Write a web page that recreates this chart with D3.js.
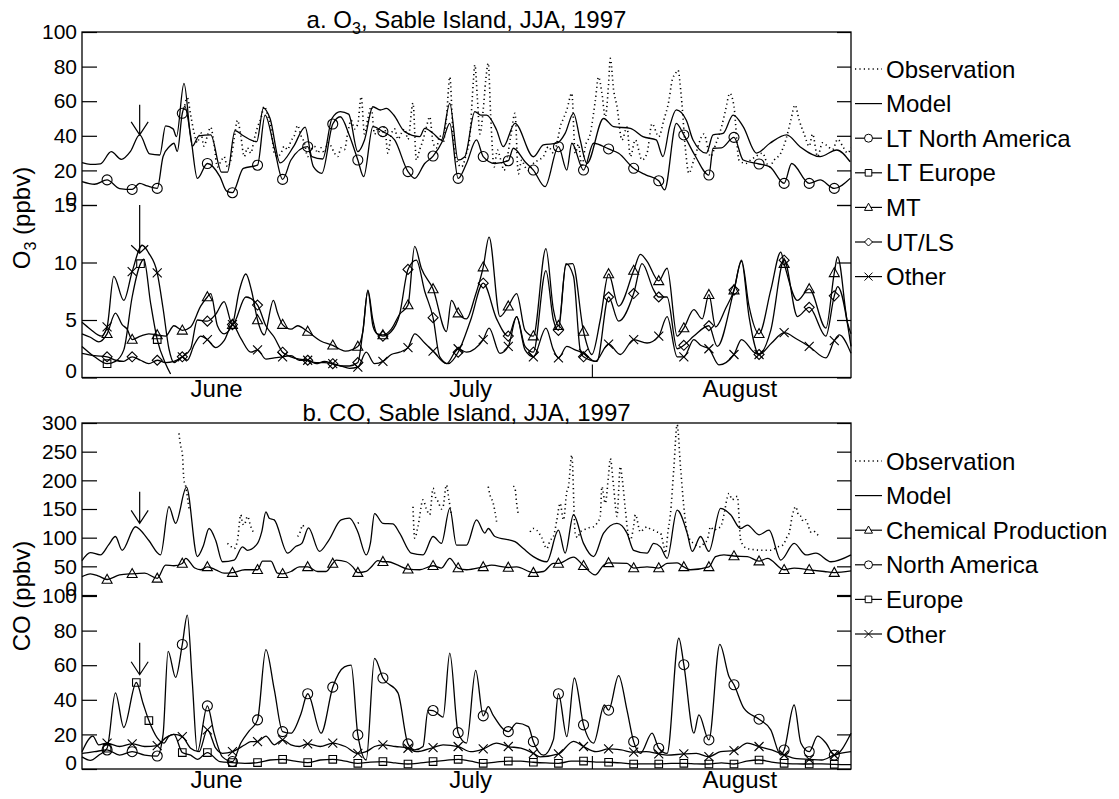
<!DOCTYPE html>
<html>
<head>
<meta charset="utf-8">
<script src="https://cdn.jsdelivr.net/npm/d3@7"></script>
<style>
  body { margin: 0; background: #fff; }
  text { font-family: "Liberation Sans", Arial, Helvetica, sans-serif; fill: #000; }
</style>
</head>
<body>
<svg id="chart" width="1119" height="799"></svg>
<script>
// days since 1 June 1997, values in ppbv
var MARK3 = [3,6,9,12,15,18,21,24,27,30,33,36,39,42,45,48,51,54,57,60,63,66,69,72,75,78,81,84,87,90];

var o3Obs = [[12.2,55],[12.6,62],[13,52],[13.4,42],[13.8,36],[14.2,42],[14.6,34],[15,40],[15.4,45],[15.8,35],[16.2,22],[16.6,25],[17,28],[17.4,22],[17.8,26],[18.2,38],[18.6,49],[19,40],[19.4,28],[19.8,33],[20.2,30],[20.6,38],[21,45],[21.4,50],[21.8,57],[22.2,52],[22.6,45],[23,30],[23.4,28],[23.8,30],[24.2,34],[24.6,32],[25,37],[25.4,40],[25.8,46],[26.2,40],[26.6,36],[27,28],[27.4,32],[27.8,34],[28.2,30],[28.6,33],[29,30],[29.4,36],[29.8,34],[30.2,30],[30.6,28],[31,33],[31.4,32],[31.8,42],[32.2,49],[32.6,44],[33,47],[33.4,62.6],[33.8,41],[34.2,50],[34.6,56.8],[35,41],[35.4,44],[35.8,40],[36.2,45],[36.6,30],[37,41],[37.4,44],[37.8,38],[38.2,41.4],[38.6,44],[39,38],[39.6,59],[40,26],[40.4,32],[40.8,37.6],[41.2,45],[41.6,51],[42,36],[42.4,33],[42.8,40],[43.2,36],[43.6,50],[44,74],[44.4,40],[44.8,26],[45.4,22],[46,30],[46.4,39.5],[46.8,70],[47,81],[47.3,62],[47.6,41],[48,55],[48.3,72],[48.6,82],[48.9,51],[49.3,22],[49.7,31.8],[50.1,26],[50.5,20],[50.9,28],[51.3,40],[51.8,53],[52.2,18],[52.6,26],[53,22],[53.4,20],[54,24],[54.6,26],[55.2,28],[55.8,33.7],[56.4,30],[57,40],[57.2,45],[57.6,50],[58,55],[58.6,64.6],[59,30],[59.4,35],[59.8,22],[60.2,33.7],[60.8,41],[61.4,60],[61.8,74],[62.2,64.6],[62.6,51],[63,70],[63.2,84.8],[63.6,66.5],[64,57],[64.6,37.6],[65.2,45],[65.6,28],[66.2,37.6],[67,26],[67.6,30],[68.2,47],[69,39.5],[69.6,49],[70.2,60],[70.6,72],[71,76],[71.3,78],[71.7,62.6],[72.2,32],[72.6,18.3],[73.2,26],[74.4,41],[75.2,28],[75.8,35],[76.5,45],[77,55],[77.5,64.6],[78,57],[78.6,26],[79.4,24],[80,26],[80.6,28],[81.4,30],[82.2,22],[82.8,26],[83.6,30],[84.2,37.6],[84.8,49],[85.3,57.8],[85.8,49],[86.4,41],[87,34],[87.4,41],[88,28],[88.6,36],[89.2,34],[89.8,32],[90.4,38],[91,34],[91.6,30],[92,33]];

var o3Model = [[0,24.5],[1,23.5],[2.2,23.8],[3.5,30.8],[4.7,26.4],[5.8,31],[6.9,40.5],[8.1,29.5],[9.3,28.9],[10,45.7],[10.9,44],[11.3,39.5],[12.2,70.3],[13.2,34],[14,40],[15.4,40.5],[16.7,19],[17.4,19],[18.3,43],[19.3,40],[20.9,36.6],[21.7,56],[22.5,50],[23.7,24.3],[25.3,33.7],[26.7,45],[27.5,28],[28.8,26.6],[29.9,50],[30.9,54],[31.9,52.5],[33,30.8],[33.8,37.6],[34.8,56.8],[35.7,54.9],[36.4,55.8],[37.3,52],[38.6,42.4],[40.4,39.5],[41,44.3],[42,41.5],[43,37.6],[44,58.8],[45,26],[45.8,27.9],[47,54],[47.7,52],[48.4,52],[49.6,43.4],[50.4,33.7],[51.8,47.2],[54,27.9],[55.2,34.7],[56.8,35.7],[57.8,41.4],[58.8,53],[59.6,37.6],[60.4,24],[62.4,50],[63.6,45.3],[65.6,44.3],[67.1,39.5],[68.7,37.6],[69.5,28],[70.3,45.3],[71.1,55],[72.3,49],[73.1,37.6],[74.7,30],[75.5,40.5],[76.7,41.4],[77.9,52],[79.1,45.3],[80.7,30],[82.3,35.7],[84.3,40.5],[85.9,33.7],[88.3,28],[90.3,31.8],[91.9,25]];

var o3LTNA = [[0,13.5],[1.5,12],[3,14.5],[4.5,9.5],[6,9],[6.9,12.5],[7.8,11],[9,9.6],[9.7,28],[10.5,34],[11,35.7],[11.4,31],[12,53],[12.3,57],[13,40],[13.8,15.4],[15,24],[16.5,16.4],[17.3,8],[18,7.1],[19.3,21.2],[21,23],[21.9,52],[23,33],[24,14.8],[25,26],[27,33.7],[27.7,22],[28.7,18.3],[30,46.8],[30.9,51],[32,40],[33,26],[33.7,16.4],[34.8,45.3],[36,42.4],[37.4,37.6],[39,19.3],[39.8,15.4],[41,24],[42,28.3],[43.2,37.6],[44,47.2],[45,15.4],[46,24],[47.2,37.6],[48,28],[49.4,24],[51,25.6],[51.6,32.8],[53,25],[54,20.2],[55.4,10.6],[57,33.7],[58,20.2],[58.6,35.7],[60,20.2],[61.2,35.7],[63,32.4],[64.2,29.9],[66,21.2],[67.5,17.3],[69,14],[69.7,8.7],[71.1,47.2],[72,40.5],[73.3,28.9],[75,17.3],[75.5,32.8],[76.5,33],[78,39.1],[79.1,26],[81,23.7],[82.3,22],[84,12.5],[84.9,24],[87,12.5],[88.3,14.5],[90,9.6],[91.9,15.4]];

var o3LTEU = [[0,2.7],[1.5,1.8],[3,1.2],[4,1.4],[5,2.4],[6,7],[7,9.9],[7.4,10.3],[8.2,6.5],[9,3.3],[10,1.2],[10.6,0.3]];
var o3LTEUMarks = [3,7,9];

var o3MT = [[0,3.8],[1,3.5],[2,3.1],[3,3.8],[4,5.6],[4.8,4.6],[5.4,4.2],[6,3.3],[7,3.6],[8,3.8],[9,3.7],[10,3.6],[11,4.5],[12,4.1],[13,4.4],[14.2,6.2],[15,7.0],[15.4,7.3],[16.2,4.5],[17,3.8],[18,4.6],[18.8,7.5],[19.6,9.0],[20.3,7.5],[21,5.0],[21.8,3.7],[22.9,6.7],[23.4,5.6],[24,4.6],[25,4.2],[25.8,4.5],[27,4.0],[28.5,3.2],[30,2.8],[31.5,2.3],[33,2.7],[33.6,4],[34.2,7.6],[34.8,5],[35.3,3.8],[36,3.7],[37,4.2],[38,5.5],[39,6.3],[39.8,11.4],[40.6,9.5],[42,7.7],[43.6,4.0],[44.2,6.7],[45,5.6],[46,5.1],[47,7],[48,9.6],[48.7,12.2],[50,5.3],[51,6.2],[52,7.3],[53,4.1],[54,3.6],[55.5,11.2],[56.4,5.9],[57,4.5],[57.9,9.8],[58.7,9.9],[60,4.0],[61,2.0],[62,5],[63,9.0],[64.2,6.2],[66,9.3],[66.8,10.7],[67.6,10.1],[69,8.4],[70,9.5],[71.2,3.6],[72,4.3],[73.2,5.9],[74.2,5.1],[75,7.2],[75.8,4.4],[77,6.0],[78,7.6],[78.9,10.2],[79.8,6.2],[81,3.8],[82.4,7.6],[83.6,10.9],[84,9.9],[85.6,6.7],[87,7.7],[89,4.3],[90,9.1],[90.4,10.5],[91.6,4.7],[92,3.8]];

var o3UTLS = [[0,2.1],[1.5,1.9],[3,1.8],[4,1.5],[5,1.4],[6,1.8],[7,1.5],[8,1.2],[9,1.5],[10,1.3],[11,1.4],[12,1.8],[13,2.5],[13.8,5.0],[15,4.9],[16,5.5],[17,6.6],[18,4.6],[19.6,7.0],[21,6.3],[22,4.5],[23,3.5],[24,2.2],[25,1.8],[26,1.6],[27,1.5],[28,1.3],[29,1.3],[30,1.2],[31,1.0],[32,1.0],[33,1.3],[33.6,4],[34.2,7.5],[34.8,4.5],[35.3,3.8],[36,3.6],[37,4.0],[38,5.5],[39,9.4],[40,10.2],[41,7.5],[42,5.2],[42.8,1.8],[43.8,1.2],[45,2.2],[46.5,5],[48,8.2],[49.6,5.1],[51,3.6],[52,5.3],[53,2.7],[54,2.2],[55.5,9.3],[56.4,5.0],[57,4.1],[57.9,9.9],[58.8,8.8],[59.6,2.4],[60,1.8],[61.6,1.4],[63,7.0],[64.2,4.9],[66,7.3],[67,9.9],[68.4,7.6],[69,7.0],[70,7.0],[71.2,2.5],[72,2.8],[73.2,3.6],[75,4.5],[76,2.7],[78,7.6],[78.9,10.1],[79.8,5.3],[81,2.0],[82.4,4.1],[84,10.2],[85.6,5.3],[87,6.1],[89,3.6],[90,7.1],[90.4,7.9],[92,2.7]];

var o3Other = [[0,4.8],[1,4.2],[2.3,3.6],[3,4.4],[3.8,8.8],[5,6.7],[6,9.2],[7.2,11.5],[8,10.8],[9,9.1],[9.7,6],[10.4,2.5],[11,1.3],[12,1.8],[12.6,1.5],[13.4,2.8],[14.2,3.6],[15,3.3],[16,2.6],[17,3.2],[18,4.6],[19,3.4],[20.2,2.2],[21,2.4],[22,1.6],[23,1.7],[24,1.8],[25,1.9],[26,1.5],[27,1.5],[28,1.2],[29,1.4],[30,1.2],[31,1.0],[32,0.8],[33,0.9],[34,2.2],[35,1.2],[36,1.4],[37,2.0],[38,2.2],[39,2.6],[39.8,3.8],[41,3],[42,2.3],[43.6,1.2],[45,2.5],[46,2.2],[47,2.5],[48,3.3],[48.7,4.3],[50,2.1],[51,2.7],[52,5.3],[53,2.4],[54,1.8],[55.5,4.3],[56.4,2.4],[57,1.7],[58,2.7],[59,2.4],[60,2.1],[61.4,1.4],[63,2.9],[64.4,2.0],[66,3.3],[67.6,3.0],[69,3.6],[70,5.3],[71.2,1.8],[72,1.8],[73.2,3.3],[74,2.8],[75,2.5],[76.2,1.1],[78,2.0],[78.9,3.3],[80.4,2.2],[81,2.0],[82.5,3.0],[84,3.9],[85.6,3.3],[87,2.7],[89,1.7],[90,3.2],[90.6,3.7],[92,2.1]];

// CO, null marks a gap in the observations
var coObs = [[11.6,282],[11.8,260],[12,247],[12.2,200],[12.4,190],[12.6,172],[12.8,151],[13,null],
  [17.4,90],[17.8,85],[18.2,81],[18.6,95],[19,140],[19.2,125],[19.4,122],[19.8,137],[20.2,119],[20.6,107],[21,null],
  [25.8,102],[26.1,110],[26.4,122],[26.6,115],[27,null],
  [33,125],[33.15,127],[33.5,null],
  [39.6,154],[39.8,99],[40.2,120],[40.8,166],[41.2,150],[41.6,140],[42,186],[42.3,170],[42.6,163],[43,150],[43.2,154],[43.6,192],[43.9,166],[44.2,140],[44.5,null],
  [48.6,189],[48.8,175],[49.2,160],[49.6,128],[50,null],
  [51.6,190],[51.8,186],[52,160],[52.2,140],[52.5,null],
  [53.6,110],[54,116],[54.4,113],[55,100],[55.6,81],[56,95],[56.4,102],[56.8,130],[57.2,160],[57.6,131],[58,180],[58.2,189],[58.6,244],[59,108],[59.3,100],[59.6,110],[60,113],[60.4,116],[60.8,118],[61.2,119],[61.6,125],[62,137],[62.2,189],[62.6,160],[63,210],[63.2,238],[63.6,189],[64,137],[64.4,224],[64.6,206],[65,150],[65.3,110],[65.6,96],[66,120],[66.2,140],[66.8,110],[67.2,115],[67.6,119],[68,115],[68.4,113],[68.8,110],[69.2,108],[69.6,85],[69.8,73],[70.1,110],[70.4,142],[70.8,220],[71.2,297],[71.6,224],[72,154],[72.4,108],[72.8,95],[73.2,90],[73.6,85],[74,84],[74.4,90],[74.8,96],[75.2,119],[75.6,113],[76,116],[76.4,119],[76.8,140],[77.2,170],[77.4,177],[77.8,166],[78.1,170],[78.4,172],[78.8,96],[79.2,85],[79.6,81],[80.4,79],[81.2,78],[82,78],[82.4,78],[82.8,80],[83.2,84],[83.6,85],[84,90],[84.3,100],[84.6,108],[85,140],[85.4,154],[85.7,140],[86,137],[86.3,128],[86.6,131],[86.9,120],[87.2,110],[87.5,112],[87.8,108],[88.1,104],[88.4,102]];

var coModel = [[0,60],[1,74],[2.2,70],[3.2,88],[4,102],[4.8,78],[6.4,119],[7,113],[8,95],[9.4,70],[10.4,154],[11.2,125],[12.5,188],[13.8,67],[14.5,85],[15.2,116],[16,95],[16.8,58],[18.2,61],[19.2,84],[19.8,78],[21,90],[21.5,110],[22,145],[22.4,134],[23,131],[24.6,73],[25.6,85],[26.3,90],[27.1,117],[28.4,76],[29.5,95],[31,131],[32,134],[33,110],[34,70],[34.5,90],[35,142],[36,125],[37.2,124],[38,108],[39.4,73],[40.8,70],[42,102],[43,90],[44,151],[44.8,87],[46,87],[47.2,131],[48.2,108],[48.6,116],[49.4,102],[51.8,93],[52.8,81],[54,67],[55.6,58],[57,113],[57.8,73],[58.8,140],[60,90],[61.2,67],[62.4,108],[64,125],[65.2,108],[66,78],[67.6,73],[68.4,90],[69.2,84],[70,64],[71.2,148],[72.4,108],[73,76],[74,102],[75,76],[76.4,151],[77.6,140],[78.8,116],[79.6,122],[81,105],[82.2,113],[83.6,61],[85.2,90],[86.6,70],[87.8,73],[89.6,58],[92,70]];

var coChem = [[0,32],[1,37],[2,33],[3,27],[4.5,35],[6,37],[7.5,38],[9,29],[10,52],[11,51],[12,55],[12.4,64],[13.5,47],[14.2,44],[15,49],[16,44],[17,38],[18,39],[19.5,44],[21,44],[21.6,59],[22.6,59],[23.4,38],[24,37],[25,41],[26,49],[27,49],[28.2,41],[29.2,41],[30,55],[30.4,61],[31.6,58],[32.4,49],[33,39],[34,41],[34.6,49],[35.4,60],[36,58],[36.6,58],[37.8,52],[39,45],[40.4,44],[42,51],[43,47],[44,64],[45,47],[46,44],[48,49],[49,52],[51,48],[52,49],[54,39],[55.2,41],[56.4,55],[57,55],[58.8,66],[60,51],[61.4,35],[62.4,52],[63,56],[65.2,55],[66,47],[67.6,49],[69,47],[70,55],[71.2,56],[72,49],[72.8,44],[75,49],[75.8,67],[76.8,70],[78,68],[79.6,67],[81,59],[82,64],[84,44],[85.2,47],[87,44],[88.8,41],[90,39],[92,42]];

var coNA = [[0,9],[1.5,10],[3,11],[4.5,8],[6,10],[7.5,8],[9,7.5],[9.7,20],[10.3,68],[11.2,53],[12,72],[12.6,89],[13.2,50],[13.8,10],[15,36.5],[15.8,20.7],[16.8,7],[18,4.3],[19,15],[20,22],[21,28.4],[22,69],[23,46],[24,21.6],[25,20.7],[26.2,32],[27,43.5],[28.6,20.7],[30,47.3],[31.4,59],[32.2,60],[33,19.7],[34,5.2],[35,64],[36,52.6],[37.8,44],[39,14.5],[39.8,11],[40.8,13],[41.4,34],[42,33.8],[43.2,30],[44,67],[45,21],[46,15],[47.1,57],[48,30.7],[48.6,36],[49.2,31],[51,21.6],[52,26.5],[53.4,24.5],[54,15.8],[55.2,8],[56.4,17],[57,43.5],[58,18.7],[58.9,52.6],[60,25.5],[61.2,15],[62.5,37],[63,34],[64.2,54],[65.2,34],[66,15.8],[66.8,9],[68.2,20.7],[69,12],[70,9],[71.4,75.7],[72,60.3],[73.2,20.7],[73.8,31.3],[75,16.8],[76.3,72],[77.4,53.5],[78,48.7],[79.2,35],[81,28.8],[82.4,22.6],[83.6,8],[84,11],[85.2,37],[86,15],[87,10],[88,19],[89,15],[90,8],[92,20.7]];

var coEU = [[0,7],[1,5],[2,8],[3,12],[4,44],[5,24],[6.5,50],[7.3,38],[8,28],[9,18],[9.8,15],[10.4,19],[11,20],[12,9.5],[13,8],[13.8,5.6],[15,9.5],[16.5,4.3],[18,3.7],[19.5,3.3],[21,3.7],[22.5,5.2],[24,5.6],[25.5,4.5],[27,3.7],[28.5,5.2],[30,5.6],[31.5,4.5],[33,3.3],[34.5,4],[36,4.3],[37.5,3.5],[39,2.9],[40.5,3.5],[42,4.3],[43.5,5],[45,5.6],[46.5,4.5],[48,3.3],[49.5,4],[51,4.6],[52.5,4.5],[54,3.9],[55.5,3.5],[57,3.3],[58.5,4.5],[60,4.6],[61.5,4],[63,3.9],[64.5,3.5],[66,2.9],[67.5,3],[69,2.9],[70.5,3.2],[72,3.3],[73.5,3],[75,2.9],[76.5,3.5],[78,2.9],[79.5,4.5],[81,5.2],[82.5,4],[84,3.3],[85.5,3],[87,2.9],[88.5,3],[90,2.7],[92,2.5]];
var coEUMarks = [3,6.5,8,12,15,18,21,24,27,30,33,36,39,42,45,48,51,54,57,60,63,66,69,72,75,78,81,84,87,90];

var coOther = [[0,10],[1.3,19],[2,14],[3,15],[4.5,13],[6,14.5],[7.5,13],[9,13.5],[10,18],[11,20],[12,18.7],[13,12],[14,10],[15,22.6],[16,12],[16.8,9],[18,10],[19.5,14],[20.2,15.8],[21,15.8],[22,19],[23,14],[24,16.8],[25,14],[26,13],[27,14.5],[28.5,13],[30,15],[31.5,13],[33,9],[34,10],[35,13],[36,14],[37.5,13],[39,12],[40,10],[42,12.4],[43.2,14],[45,13],[46.5,10],[48,11.6],[49.6,15],[51,13],[52.5,12],[54,9],[54.8,7],[57,8.7],[58.8,16],[60,13],[61.5,10],[63,11.6],[64.5,11],[66,9.7],[67.5,10],[69,8.7],[70,8],[72,8.7],[73.5,9],[75,7.1],[76.4,10],[78,10.6],[79.6,15],[81,13],[82.5,11],[84,8.1],[85.5,6],[87,5.6],[88.5,5.2],[90,8.1],[92,10]];

// event arrow (day, from value, to value) in each sub panel
var arrowDay = 6.9;
var arrowVals = [[58, 40.5], [15, 10.8], [180, 125], [73, 54.5]];

var monthNames = ["June", "July", "August"];
var monthDays = [16.1, 46.5, 78.7];

var legendA = ["Observation", "Model", "LT North America", "LT Europe", "MT", "UT/LS", "Other"];
var legendAMarks = ["dot", "line", "circle", "square", "triangle", "diamond", "x"];
var legendB = ["Observation", "Model", "Chemical Production", "North America", "Europe", "Other"];
var legendBMarks = ["dot", "line", "triangle", "circle", "square", "x"];

var svg = d3.select("#chart");
var x = d3.scaleLinear().domain([0, 92]).range([82, 851]);

var subs = [
  {y: d3.scaleLinear().domain([0, 100]).range([205, 32]), major: d3.range(0, 101, 20), minor: d3.range(0, 101, 5)},
  {y: d3.scaleLinear().domain([0, 15]).range([377.5, 205]), major: [0, 5, 10, 15], minor: d3.range(0, 16, 1)},
  {y: d3.scaleLinear().domain([0, 300]).range([595, 423]), major: d3.range(0, 301, 50), minor: d3.range(0, 301, 10)},
  {y: d3.scaleLinear().domain([0, 100]).range([769, 596]), major: d3.range(0, 101, 20), minor: d3.range(0, 101, 5)}
];

function markerPath(type, s) {
  if (type == "square") return "M" + (-s) + "," + (-s) + "h" + 2*s + "v" + 2*s + "h" + (-2*s) + "Z";
  if (type == "triangle") return "M0," + (-s*1.05) + "L" + s + "," + s*0.75 + "L" + (-s) + "," + s*0.75 + "Z";
  if (type == "diamond") return "M0," + (-s) + "L" + s + ",0L0," + s + "L" + (-s) + ",0Z";
  if (type == "x") return "M" + (-s) + "," + (-s) + "L" + s + "," + s + "M" + (-s) + "," + s + "L" + s + "," + (-s);
  // circle
  return "M" + s + ",0A" + s + "," + s + " 0 1,1 " + (-s) + ",0A" + s + "," + s + " 0 1,1 " + s + ",0";
}
var markerSize = {circle: 5, square: 3.8, triangle: 5, diamond: 5, x: 4.5};

function drawSeries(yScale, pts, kind, marks) {
  var line = d3.line()
    .defined(function(d) { return d[1] !== null; })
    .x(function(d) { return x(d[0]); })
    .y(function(d) { return yScale(d[1]); })
    .curve(d3.curveMonotoneX);
  var p = svg.append("path").datum(pts)
    .attr("d", line)
    .attr("fill", "none")
    .attr("stroke", "#000")
    .attr("stroke-width", kind == "dot" ? 1.6 : 1.3);
  if (kind == "dot") p.attr("stroke-dasharray", "1.2,3.2");
  if (marks) {
    var pick = pts.filter(function(d) { return marks.indexOf(d[0]) >= 0; });
    svg.selectAll(null).data(pick).enter().append("path")
      .attr("transform", function(d) { return "translate(" + x(d[0]) + "," + yScale(d[1]) + ")"; })
      .attr("d", markerPath(kind, markerSize[kind]))
      .attr("fill", "none")
      .attr("stroke", "#000")
      .attr("stroke-width", 1.1);
  }
}

// axes
subs.forEach(function(s, i) {
  var gl = svg.append("g").attr("transform", "translate(82,0)");
  gl.call(d3.axisLeft(s.y).tickValues(s.minor).tickSize(-7).tickFormat(""));
  gl.call(d3.axisLeft(s.y).tickValues(s.major).tickSize(-15).tickPadding(5).tickFormat(d3.format("d")));
  var gr = svg.append("g").attr("transform", "translate(851,0)");
  gr.call(d3.axisRight(s.y).tickValues(s.minor).tickSize(-7).tickFormat(""));
  gr.call(d3.axisRight(s.y).tickValues(s.major).tickSize(-14).tickFormat(""));
  [gl, gr].forEach(function(g) {
    g.selectAll(".domain").remove();
    g.selectAll("line").attr("stroke", "#000").attr("stroke-width", 1.2);
  });
  gl.selectAll("text")
    .style("font-size", "21px")
    .attr("font-family", null)
    .attr("dy", function(d) { return d === 0 ? "-0.0em" : "0.32em"; });
});

var frames = [[32, 377.5], [423, 769]];
frames.forEach(function(f) {
  svg.append("rect")
    .attr("x", 82).attr("y", f[0])
    .attr("width", 851 - 82).attr("height", f[1] - f[0])
    .attr("fill", "none").attr("stroke", "#000").attr("stroke-width", 1.3);
  var gb = svg.append("g").attr("transform", "translate(0," + f[1] + ")");
  gb.call(d3.axisBottom(x).tickValues(d3.range(1, 92)).tickSize(-6).tickFormat(""));
  gb.call(d3.axisBottom(x).tickValues([61]).tickSize(-13).tickFormat(""));
  gb.selectAll(".domain").remove();
  gb.selectAll("line").attr("stroke", "#000").attr("stroke-width", 1.1);
  svg.selectAll(null).data(monthNames).enter().append("text")
    .attr("x", function(d, i) { return x(monthDays[i]); })
    .attr("y", f[1] + 19)
    .attr("text-anchor", "middle")
    .style("font-size", "24px")
    .text(function(d) { return d; });
});

// series
drawSeries(subs[0].y, o3Obs, "dot");
drawSeries(subs[0].y, o3Model, "line");
drawSeries(subs[0].y, o3LTNA, "circle", MARK3);
drawSeries(subs[1].y, o3LTEU, "square", o3LTEUMarks);
drawSeries(subs[1].y, o3MT, "triangle", MARK3);
drawSeries(subs[1].y, o3UTLS, "diamond", MARK3);
drawSeries(subs[1].y, o3Other, "x", MARK3);
drawSeries(subs[2].y, coObs, "dot");
drawSeries(subs[2].y, coModel, "line");
drawSeries(subs[2].y, coChem, "triangle", MARK3);
drawSeries(subs[3].y, coNA, "circle", MARK3);
drawSeries(subs[3].y, coEU, "square", coEUMarks);
drawSeries(subs[3].y, coOther, "x", MARK3);

// arrows
arrowVals.forEach(function(a, i) {
  var ys = subs[i].y, ax = x(arrowDay), y0 = ys(a[0]), y1 = ys(a[1]);
  var hh = i == 1 ? 8 : 13;
  svg.append("path")
    .attr("d", "M" + ax + "," + y0 + "V" + y1 + "M" + (ax - 8.5) + "," + (y1 - hh) + "L" + ax + "," + y1 + "L" + (ax + 8.5) + "," + (y1 - hh))
    .attr("fill", "none").attr("stroke", "#000").attr("stroke-width", 1.2);
});

// titles
function title(y, pre, sub, post) {
  var t = svg.append("text").attr("x", 466.5).attr("y", y).attr("text-anchor", "middle").style("font-size", "24px");
  t.append("tspan").text(pre);
  if (sub) {
    t.append("tspan").attr("dy", 6).style("font-size", "16px").text(sub);
    t.append("tspan").attr("dy", -6).text(post);
  }
  return t;
}
title(28, "a. O", "3", ", Sable Island, JJA, 1997");
title(421, "b. CO, Sable Island, JJA, 1997");

var yt1 = svg.append("text").attr("transform", "translate(30,218) rotate(-90)")
  .attr("text-anchor", "middle").style("font-size", "24px");
yt1.append("tspan").text("O");
yt1.append("tspan").attr("dy", 6).style("font-size", "16px").text("3");
yt1.append("tspan").attr("dy", -6).text(" (ppbv)");
svg.append("text").attr("transform", "translate(30,596) rotate(-90)")
  .attr("text-anchor", "middle").style("font-size", "24px").text("CO (ppbv)");

// legends
function legend(names, kinds, y0) {
  names.forEach(function(n, i) {
    var yy = y0 + i * 34.6;
    var ln = svg.append("line").attr("x1", 855).attr("x2", 882).attr("y1", yy).attr("y2", yy)
      .attr("stroke", "#000").attr("stroke-width", kinds[i] == "dot" ? 1.6 : 1.2);
    if (kinds[i] == "dot") ln.attr("stroke-dasharray", "1.2,3.2");
    if (kinds[i] != "dot" && kinds[i] != "line") {
      svg.append("path").attr("transform", "translate(868.5," + yy + ")")
        .attr("d", markerPath(kinds[i], kinds[i] == "square" ? 3.3 : 4))
        .attr("fill", "#fff").attr("stroke", "#000").attr("stroke-width", 1);
    }
    svg.append("text").attr("x", 886).attr("y", yy).attr("dy", "0.36em")
      .style("font-size", "24px").text(n);
  });
}
legend(legendA, legendAMarks, 69);
legend(legendB, legendBMarks, 461);
</script>
</body>
</html>
